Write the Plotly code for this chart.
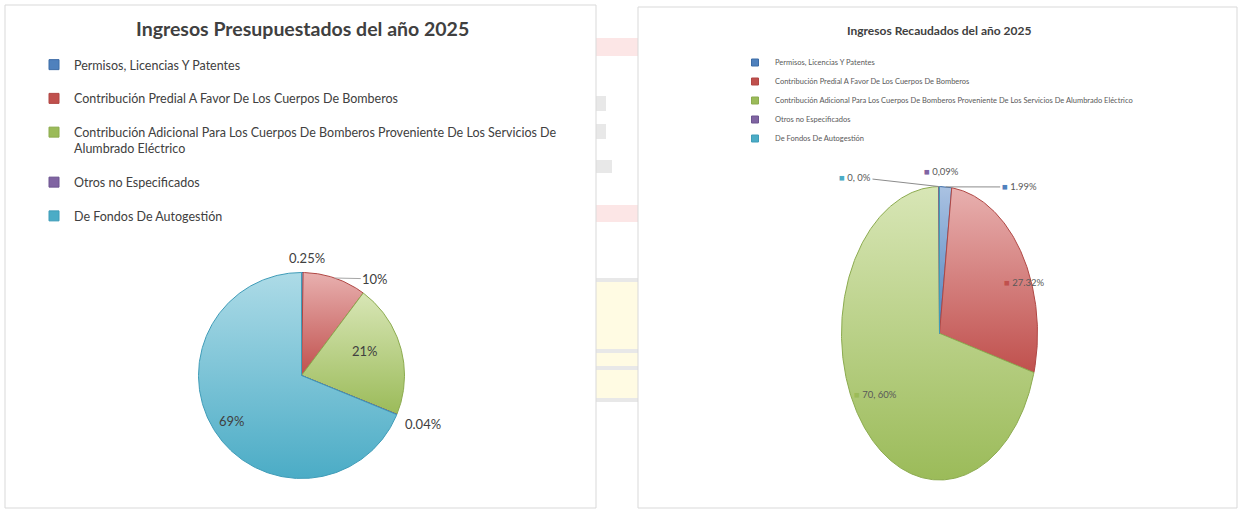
import numpy as np
import plotly.graph_objects as go

# ---------------- data ----------------
categories = [
    "Permisos, Licencias Y Patentes",
    "Contribución Predial A Favor De Los Cuerpos De Bomberos",
    "Contribución Adicional Para Los Cuerpos De Bomberos Proveniente De Los Servicios De Alumbrado Eléctrico",
    "Otros no Especificados",
    "De Fondos De Autogestión",
]
presupuestado_pct = [0.25, 10, 21, 0.04, 69]
presupuestado_text = ["0.25%", "10%", "21%", "0.04%", "69%"]
recaudado_pct = [1.99, 27.32, 70.60, 0.09, 0.0]
recaudado_text = ["1.99%", "27.32%", "70, 60%", "0,09%", "0, 0%"]
title_left = "Ingresos Presupuestados del año 2025"
title_right = "Ingresos Recaudados del año 2025"

# ---------------- style ----------------
W, H = 1241, 510
base_colors = ["#4f81bd", "#c0504d", "#9bbb59", "#8064a2", "#4bacc6"]
light_colors = ["#aac2e2", "#e8b0af", "#d8e6b6", "#c6b8d9", "#addbe7"]
edge_colors = ["#3d6ca6", "#b04744", "#8cab4f", "#6c5590", "#3f9cb8"]
FONT = "Lato, 'Open Sans', sans-serif"
NARROW = "Lato, Roboto, sans-serif"


def Y(py):
    """pixel row -> data y (the hidden axis spans the whole page, y up)"""
    return H - py


def wedge(cx, cy, rx, ry, t0, t1):
    n = max(2, int(np.ceil((t1 - t0) * 500)))
    th = 2 * np.pi * np.linspace(t0, t1, n)
    xs = np.concatenate([[cx], cx + rx * np.sin(th), [cx]])
    ys = np.concatenate([[cy], cy + ry * np.cos(th), [cy]])
    return xs, ys


def polar(cx, cy, rx, ry, deg, rho):
    a = np.radians(deg)
    return cx + rho * rx * np.sin(a), cy + rho * ry * np.cos(a)


fig = go.Figure()
annotations = []

# pie geometry (page pixels)
LEFT = dict(cx=301.5, cy=Y(375.5), rx=103, ry=103)
RIGHT = dict(cx=939.5, cy=Y(333.3), rx=98, ry=146.7)

# label placement: (angle offset from slice middle in deg, radius factor, leader line)
left_label_pos = [(2.3, 1.14, False), (18.5, 1.18, True), (-5.5, 0.66, False), (-0.3, 1.27, False), (0.6, 0.81, False)]
right_label_pos = [(35.6, 1.287, True), (12.0, 0.93, False), (5.1, 0.776, False), (1.05, 1.106, False), (-39.0, 1.37, True)]


def add_pie(values, texts, geo, label_pos, legend_id, legend_size, right_style):
    total = float(sum(values))
    cum = np.concatenate([[0.0], np.cumsum(values) / total])
    for i, v in enumerate(values):
        t0, t1 = cum[i], cum[i + 1]
        xs, ys = wedge(geo["cx"], geo["cy"], geo["rx"], geo["ry"], t0, t1)
        fig.add_trace(go.Scatter(
            x=xs, y=ys, mode="lines", fill="toself",
            line=dict(color=edge_colors[i], width=1),
            fillgradient=dict(type="vertical",
                              colorscale=[[0, base_colors[i]], [1, light_colors[i]]]),
            showlegend=False, hoverinfo="text",
            text=f"{categories[i]}: {texts[i]}", xaxis="x", yaxis="y",
        ))
        # legend proxy
        name = categories[i]
        if not right_style and i == 2:
            name = name.replace("Servicios De Alumbrado", "Servicios De<br>Alumbrado")
        fig.add_trace(go.Scatter(
            x=[None], y=[None], mode="markers", name=name,
            marker=dict(symbol="square", size=legend_size, color=base_colors[i],
                        line=dict(color=edge_colors[i], width=1)),
            legend=legend_id, legendgroup=f"{legend_id}_{i}",
        ))
        mid = 360 * (t0 + t1) / 2
        dth, rho, leader = label_pos[i]
        lx, ly = polar(geo["cx"], geo["cy"], geo["rx"], geo["ry"], mid + dth, rho)
        if right_style:
            txt = f'<span style="color:{base_colors[i]}">■</span> {texts[i]}'
            font = dict(family=NARROW, size=9.5, color="#595959")
        else:
            txt = texts[i]
            font = dict(family=FONT, size=13, color="#404040")
        if leader:
            ex, ey = polar(geo["cx"], geo["cy"], geo["rx"], geo["ry"], mid, 1.0)
            annotations.append(dict(
                x=ex, y=ey, ax=lx, ay=ly, xref="x", yref="y", axref="x", ayref="y",
                text=txt, showarrow=True, arrowhead=0, arrowwidth=1,
                arrowcolor="#8c8c8c" if right_style else "#a6a6a6", standoff=0, font=font,
            ))
        else:
            annotations.append(dict(x=lx, y=ly, xref="x", yref="y", text=txt,
                                    showarrow=False, font=font))


add_pie(presupuestado_pct, presupuestado_text, LEFT, left_label_pos, "legend", 10, False)
add_pie(recaudado_pct, recaudado_text, RIGHT, right_label_pos, "legend2", 7, True)

# titles
annotations.append(dict(x=302 / W, y=1 - 28 / H, xref="paper", yref="paper", xanchor="center",
                        yanchor="middle", text=f"<b>{title_left}</b>", showarrow=False,
                        font=dict(family=FONT, size=19.5, color="#404040")))
annotations.append(dict(x=939 / W, y=1 - 30 / H, xref="paper", yref="paper", xanchor="center",
                        yanchor="middle", text=f"<b>{title_right}</b>", showarrow=False,
                        font=dict(family=NARROW, size=12, color="#404040")))

# page background: faint watermark pieces visible between panels, then the two chart panels
shapes = []
deco = [
    (38, 56, "#fce6e6"), (205, 222, "#fce6e6"), (278, 400, "#fffbe3"),
]
for y0, y1, c in deco:
    shapes.append(dict(type="rect", xref="paper", yref="paper", x0=590 / W, x1=645 / W,
                       y0=1 - y1 / H, y1=1 - y0 / H, fillcolor=c, line=dict(width=0), layer="below"))
for x1, y0, y1 in [(606, 96, 111), (606, 124, 139), (612, 160, 173), (640, 278, 282), (640, 349, 353), (640, 366, 370), (640, 398, 402)]:
    shapes.append(dict(type="rect", xref="paper", yref="paper", x0=590 / W, x1=x1 / W,
                       y0=1 - y1 / H, y1=1 - y0 / H, fillcolor="#e8e8e8", line=dict(width=0), layer="below"))
for x0, y0, x1, y1 in [(5, 5, 596, 508), (638, 7, 1237, 508)]:
    shapes.append(dict(type="rect", xref="paper", yref="paper", x0=x0 / W, x1=x1 / W,
                       y0=1 - y1 / H, y1=1 - y0 / H, fillcolor="white",
                       line=dict(color="#d9d9d9", width=1), layer="below"))

fig.update_layout(
    width=W, height=H, margin=dict(l=0, r=0, t=0, b=0),
    paper_bgcolor="white", plot_bgcolor="rgba(0,0,0,0)",
    xaxis=dict(range=[0, W], domain=[0, 1], visible=False, fixedrange=True),
    yaxis=dict(range=[0, H], domain=[0, 1], visible=False, fixedrange=True),
    showlegend=True,
    legend=dict(x=34 / W, y=1 - 50 / H, xanchor="left", yanchor="top",
                font=dict(family=FONT, size=12.5, color="#404040"),
                tracegroupgap=14.5, traceorder="grouped", valign="top",
                bgcolor="rgba(0,0,0,0)", itemclick=False, itemdoubleclick=False),
    legend2=dict(x=735 / W, y=1 - 48 / H, xanchor="left", yanchor="top",
                 font=dict(family=NARROW, size=7.5, color="#595959"),
                 tracegroupgap=0, traceorder="grouped",
                 bgcolor="rgba(0,0,0,0)", itemclick=False, itemdoubleclick=False),
    annotations=annotations, shapes=shapes,
)

fig.write_html(
    "out.html",
    config={"responsive": False, "displayModeBar": False},
    post_script="document.body.style.margin='0';document.body.style.overflow='hidden';",
)
